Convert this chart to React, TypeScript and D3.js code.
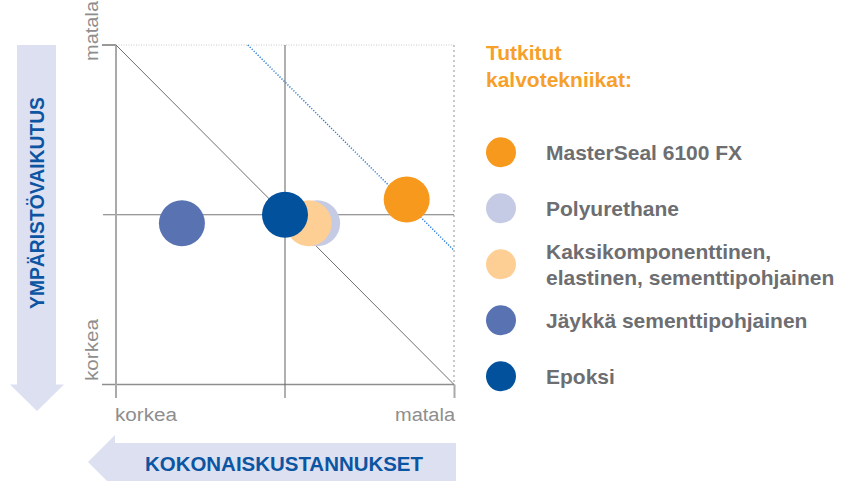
import React from "react";
import * as d3 from "d3";

// ---- data ----
const techniques = [
  "MasterSeal 6100 FX",
  "Polyurethane",
  "Kaksikomponenttinen, elastinen, sementtipohjainen",
  "Jäykkä sementtipohjainen",
  "Epoksi",
];
const legendLines = [
  ["MasterSeal 6100 FX"],
  ["Polyurethane"],
  ["Kaksikomponenttinen,", "elastinen, sementtipohjainen"],
  ["Jäykkä sementtipohjainen"],
  ["Epoksi"],
];
// x: total cost score (0 = korkea, 10 = matala); y: environmental impact score (0 = korkea, 10 = matala)
const costScores = [8.6, 5.95, 5.7, 1.95, 5.0];
const impactScores = [5.45, 4.75, 4.75, 4.75, 5.0];
const colors = ["#f7991d", "#c6cbe5", "#fecf95", "#5872b2", "#02519d"];
const drawOrder = [3, 1, 2, 4, 0];

const costTicks = ["korkea", "matala"];
const impactTicks = ["korkea", "matala"];
const legendTitle = ["Tutkitut", "kalvotekniikat:"];
const xTitle = "KOKONAISKUSTANNUKSET";
const yTitle = "YMPÄRISTÖVAIKUTUS";

// reference lines in data units
const diagonalLine = [
  [0, 10],
  [10, 0],
];
const targetLine = [
  [3.9, 10],
  [10, 3.95],
];

const FONT = "'Liberation Sans', Arial, Helvetica, sans-serif";

export default function App() {
  const W = 854;
  const H = 481;
  const x = d3.scaleLinear().domain([0, 10]).range([116, 454]);
  const y = d3.scaleLinear().domain([0, 10]).range([384.5, 45]);
  const line = d3
    .line<number[]>()
    .x((d) => x(d[0]))
    .y((d) => y(d[1]));

  const x0 = x(0),
    x1 = x(10),
    xm = x(5);
  const y0 = y(0),
    y1 = y(10),
    ym = y(5);
  const axisGray = "#8e8e8e";
  const lightGray = "#a9a9a9";
  const arrowFill = "#dde0f1";
  const titleBlue = "#0b55a2";

  return (
    <svg
      width={W}
      height={H}
      style={{ position: "absolute", left: 0, top: 0, background: "#fff" }}
      fontFamily={FONT}
    >
      {/* vertical arrow */}
      <path
        d={`M17,${y1} L56,${y1} L56,${y0} L64,${y0} L37,411 L10,${y0} L17,${y0} Z`}
        fill={arrowFill}
      />
      <text
        transform={`translate(43.5,203) rotate(-90)`}
        textAnchor="middle"
        fontSize={20}
        fontWeight="bold"
        fill={titleBlue}
        textLength={212}
        lengthAdjust="spacingAndGlyphs"
      >
        {yTitle}
      </text>
      {/* horizontal arrow */}
      <path
        d={`M115,443 L456,443 L456,481 L115,481 L115,489 L88,462 L115,435 Z`}
        fill={arrowFill}
      />
      <text
        x={284}
        y={470.5}
        textAnchor="middle"
        fontSize={20.5}
        fontWeight="bold"
        fill={titleBlue}
        textLength={278}
        lengthAdjust="spacingAndGlyphs"
      >
        {xTitle}
      </text>

      {/* frame & grid */}
      <line x1={x0} x2={x1} y1={y1} y2={y1} stroke="#c8c8c8" strokeWidth={1} strokeDasharray="1,1.5" />
      <line x1={102} x2={x0} y1={y1} y2={y1} stroke="#777" strokeWidth={1.5} />
      <line x1={x1} x2={x1} y1={y1} y2={y0} stroke="#c9c9c9" strokeWidth={2} strokeDasharray="2,3" />
      <line x1={x1 + 0.5} x2={x1 + 0.5} y1={y0} y2={398} stroke={lightGray} strokeWidth={2} />
      <line x1={102} x2={x1} y1={y0} y2={y0} stroke={axisGray} strokeWidth={1.5} />
      <line x1={103} x2={x1} y1={ym} y2={ym} stroke="#777" strokeWidth={1.2} />
      <line x1={xm} x2={xm} y1={y1} y2={398} stroke="#6e6e6e" strokeWidth={1.1} />
      <line x1={x0} x2={x0} y1={y1} y2={398} stroke={lightGray} strokeWidth={2} />
      <path d={line(diagonalLine) || ""} stroke="#6e6e6e" strokeWidth={1} fill="none" />
      <path
        d={line(targetLine) || ""}
        stroke="#2f7fd6"
        strokeWidth={1.5}
        strokeDasharray="1.2,1.6"
        fill="none"
      />

      {/* axis tick labels */}
      <text x={115} y={421} fontSize={18} fill={axisGray} textLength={62} lengthAdjust="spacingAndGlyphs">
        {costTicks[0]}
      </text>
      <text x={395} y={421} fontSize={18} fill={axisGray} textLength={60} lengthAdjust="spacingAndGlyphs">
        {costTicks[1]}
      </text>
      <text
        transform={`translate(98,381) rotate(-90)`}
        fontSize={18}
        fill={axisGray}
        textLength={62}
        lengthAdjust="spacingAndGlyphs"
      >
        {impactTicks[0]}
      </text>
      <text
        transform={`translate(98,61) rotate(-90)`}
        fontSize={18}
        fill={axisGray}
        textLength={60}
        lengthAdjust="spacingAndGlyphs"
      >
        {impactTicks[1]}
      </text>

      {/* bubbles */}
      {drawOrder.map((i) => (
        <circle key={techniques[i]} cx={x(costScores[i])} cy={y(impactScores[i])} r={23} fill={colors[i]} />
      ))}

      {/* legend */}
      {legendTitle.map((t, k) => (
        <text key={t} x={486} y={60 + k * 27} fontSize={21} fontWeight="bold" fill="#f6a02a">
          {t}
        </text>
      ))}
      {techniques.map((t, i) => {
        const cy = 152.3 + i * 56;
        const lines = legendLines[i];
        const startY = cy + 7.5 - ((lines.length - 1) * 26) / 2;
        return (
          <g key={t}>
            <circle cx={501} cy={cy} r={15} fill={colors[i]} />
            {lines.map((l, k) => (
              <text key={l} x={546} y={startY + k * 26} fontSize={21} fontWeight="bold" fill="#6d6e71">
                {l}
              </text>
            ))}
          </g>
        );
      })}
    </svg>
  );
}
